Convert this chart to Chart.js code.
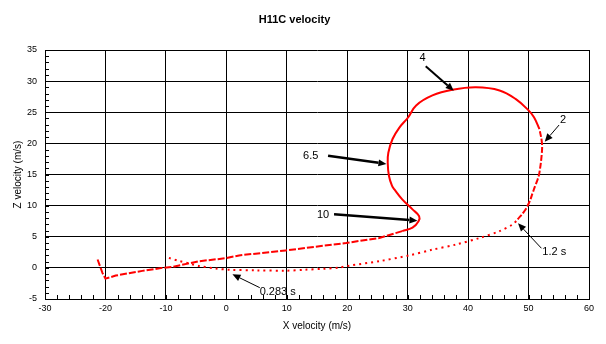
<!DOCTYPE html>
<html>
<head>
<meta charset="utf-8">
<script src="https://cdn.jsdelivr.net/npm/chart.js@4"></script>
<style>
  html, body { margin: 0; padding: 0; background: #fff; }
</style>
</head>
<body>
<canvas id="velChart" width="606" height="344"></canvas>
<script>
// trajectory, in time order, split by line style
var xEarly = [-9.5, -7.8, -5.9, -4.5, -1.75, 0.5, 5, 9.8, 13, 16, 18.7, 20.3, 25.3, 30.2, 34, 38, 41.9, 45.2, 47.4, 48.2];
var zEarly = [1.6, 1.1, 0.65, 0.3, -0.1, -0.3, -0.4, -0.45, -0.3, -0.15, 0.05, 0.35, 1.07, 2.0, 2.9, 3.75, 4.8, 5.9, 7.0, 7.8];

var xRise = [48.2, 49.3, 50.1, 50.7, 51.1, 51.5, 51.8, 52.2, 52.2, 51.8];
var zRise = [7.8, 9.1, 10.5, 12.1, 13.2, 14.2, 15.3, 18.5, 20.2, 22.3];

var xLoop = [51.8, 50.9, 50, 47.9, 45.2, 41.3, 37.4, 34.1, 31.4, 30.1, 28.6, 27.5, 26.8, 26.7, 26.9, 27.4, 27.8, 29.1, 30.8, 31.9, 31.8, 30.8, 29.1];
var zLoop = [22.3, 24.2, 25.3, 27.1, 28.5, 29.0, 28.6, 27.7, 26.1, 24.2, 22.5, 20.7, 18.5, 16.9, 14.8, 13.2, 12.6, 11.0, 9.4, 8.3, 7.5, 6.45, 5.9];

var xBack = [29.1, 25.3, 19.8, 9.8, 2.1, -0.1, -4.5, -8.9, -10.6, -13.9, -18.3, -20, -20.5, -21.3];
var zBack = [5.9, 4.8, 4.0, 2.8, 2.0, 1.55, 1.07, 0.16, 0, -0.48, -1.24, -1.73, -0.8, 1.34];

// time labels and their arrows (data coordinates)
var noteText = ['4', '2', '6.5', '10', '1.2 s', '0.283 s'];
var noteX = [32.45, 55.71, 13.96, 16.0, 54.25, 8.5];
var noteZ = [33.67, 23.76, 17.98, 8.5, 2.51, -3.82];
var arrowFromX = [32.99, 55.05, 16.83, 17.82, 52.13, 5.53];
var arrowFromZ = [32.4, 22.95, 18.02, 8.61, 3.15, -3.18];
var arrowToX = [37.62, 52.68, 26.49, 31.62, 48.26, 1.01];
var arrowToZ = [28.47, 20.27, 16.69, 7.58, 7.16, -1.03];

var FONT = "'Liberation Sans', Arial, sans-serif";

function pts(xs, zs) {
  return xs.map(function (x, i) { return { x: x, y: zs[i] }; });
}

function redLine(xs, zs, dash, tension) {
  return {
    data: pts(xs, zs),
    showLine: true,
    borderColor: '#ff0000',
    borderWidth: 2,
    borderDash: dash,
    pointRadius: 0,
    fill: false,
    tension: tension
  };
}

// small inside ticks between the gridlines
var minorTicks = {
  id: 'minorTicks',
  afterDraw: function (chart) {
    var ctx = chart.ctx, xs = chart.scales.x, ys = chart.scales.y;
    var area = chart.chartArea;
    ctx.save();
    ctx.strokeStyle = '#000';
    ctx.lineWidth = 1;
    ctx.beginPath();
    for (var v = -30; v <= 60; v += 2) {
      var px = Math.round(xs.getPixelForValue(v)) + 0.5;
      ctx.moveTo(px, area.bottom);
      ctx.lineTo(px, area.bottom - 4);
    }
    for (var w = -5; w <= 35; w += 1) {
      var py = Math.round(ys.getPixelForValue(w)) + 0.5;
      ctx.moveTo(area.left, py);
      ctx.lineTo(area.left + 4, py);
    }
    ctx.stroke();
    ctx.restore();
  }
};

var arrowWidths = [2, 1, 2.5, 2.5, 1, 1];

var notes = {
  id: 'notes',
  afterDatasetsDraw: function (chart) {
    var ctx = chart.ctx, xs = chart.scales.x, ys = chart.scales.y;
    ctx.save();
    ctx.fillStyle = '#000';
    ctx.strokeStyle = '#000';
    ctx.font = '11px ' + FONT;
    ctx.textAlign = 'center';
    ctx.textBaseline = 'middle';
    noteText.forEach(function (t, i) {
      ctx.fillText(t, xs.getPixelForValue(noteX[i]), ys.getPixelForValue(noteZ[i]));
      var x1 = xs.getPixelForValue(arrowFromX[i]), y1 = ys.getPixelForValue(arrowFromZ[i]);
      var x2 = xs.getPixelForValue(arrowToX[i]), y2 = ys.getPixelForValue(arrowToZ[i]);
      var a = Math.atan2(y2 - y1, x2 - x1);
      var hl = 8, hw = 3.5;
      var bx = x2 - hl * Math.cos(a), by = y2 - hl * Math.sin(a);
      ctx.lineWidth = arrowWidths[i];
      ctx.beginPath();
      ctx.moveTo(x1, y1);
      ctx.lineTo(bx, by);
      ctx.stroke();
      ctx.beginPath();
      ctx.moveTo(x2, y2);
      ctx.lineTo(bx + hw * Math.sin(a), by - hw * Math.cos(a));
      ctx.lineTo(bx - hw * Math.sin(a), by + hw * Math.cos(a));
      ctx.closePath();
      ctx.fill();
    });
    ctx.restore();
  }
};

var ctx = document.getElementById('velChart').getContext('2d');
var velChart = new Chart(ctx, {
  type: 'scatter',
  data: {
    datasets: [
      redLine(xEarly, zEarly, [2, 4], 0.3),
      redLine(xRise, zRise, [6, 2], 0.4),
      redLine(xLoop, zLoop, [], 0.4),
      redLine(xBack, zBack, [7, 2], 0)
    ]
  },
  options: {
    responsive: false,
    animation: false,
    layout: { padding: { left: 0, right: 17, top: 0, bottom: 0 } },
    scales: {
      x: {
        type: 'linear',
        min: -30,
        max: 60,
        afterFit: function (scale) { scale.height = 45; },
        ticks: { stepSize: 10, padding: 4, color: '#000', font: { family: FONT, size: 9 } },
        grid: { color: '#000', lineWidth: 1, drawTicks: false },
        border: { color: '#000', width: 1 },
        title: { display: true, text: 'X velocity (m/s)', color: '#000', font: { family: FONT, size: 10 }, padding: { top: 0, bottom: 12 } }
      },
      y: {
        type: 'linear',
        min: -5,
        max: 35,
        afterFit: function (scale) { scale.width = 45; },
        ticks: { stepSize: 5, padding: 8, color: '#000', font: { family: FONT, size: 9 } },
        grid: { color: '#000', lineWidth: 1, drawTicks: false },
        border: { color: '#000', width: 1 },
        title: { display: true, text: 'Z velocity (m/s)', color: '#000', font: { family: FONT, size: 10 }, padding: { top: 12, bottom: 0 } }
      }
    },
    plugins: {
      legend: { display: false },
      tooltip: { enabled: false },
      title: {
        display: true,
        text: 'H11C velocity',
        color: '#000',
        font: { family: FONT, size: 11, weight: 'bold' },
        padding: { top: 13, bottom: 23.8 }
      }
    }
  },
  plugins: [minorTicks, notes]
});
</script>
</body>
</html>
